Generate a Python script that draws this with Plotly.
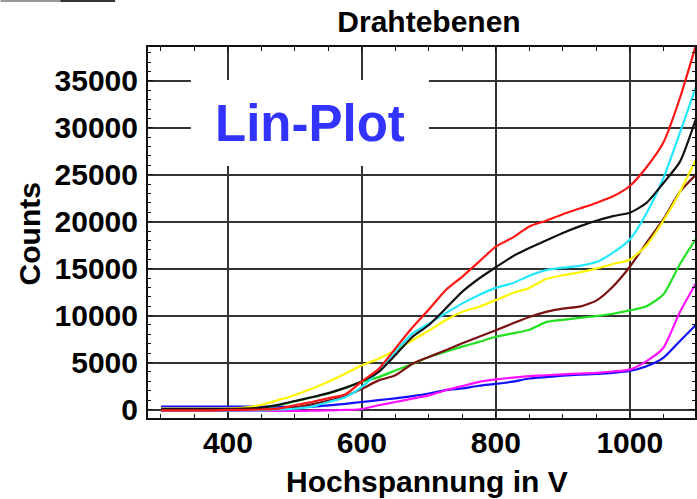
import plotly.graph_objects as go

# ---- data ----
voltage = [300, 325, 350, 375, 400, 425, 450, 475, 500, 525, 550, 575, 600, 625, 650,
           675, 700, 725, 750, 775, 800, 825, 850, 875, 900, 925, 950, 975, 1000,
           1025, 1050, 1075, 1100]

blue = [300, 300, 300, 300, 300, 300, 300, 300, 250, 300, 450, 600, 800, 1000, 1180,
        1420, 1700, 2060, 2250, 2530, 2720, 2960, 3300, 3450, 3600, 3700, 3780, 3900, 4100,
        4600, 5500, 7300, 9100]
magenta = [-150, -150, -150, -150, -150, -150, -150, -150, -150, -120, -100, -50, 50, 450, 800,
           1150, 1500, 2050, 2500, 2950, 3200, 3400, 3550, 3650, 3750, 3830, 3900, 4050, 4250,
           5150, 6550, 10400, 13600]
green = [0, 0, 0, 0, 0, 50, 150, 450, 850, 1300, 1700, 2300, 2950, 3450, 4150,
         4850, 5600, 6150, 6700, 7200, 7750, 8100, 8500, 9300, 9550, 9750, 9950, 10200, 10550,
         11000, 12250, 15500, 18300]
brown = [-100, -100, -100, -100, -100, -50, 0, 50, 200, 550, 950, 1400, 2200, 3100, 3650,
         4850, 5600, 6300, 7050, 7750, 8450, 9150, 9850, 10400, 10750, 10950, 11600, 13100, 15200,
         17750, 20250, 23200, 25100]
yellow = [100, 100, 100, 100, 100, 200, 500, 1000, 1550, 2200, 2950, 3800, 4700, 5400, 6300,
          7350, 8400, 9500, 10400, 10950, 11650, 12400, 12950, 13900, 14300, 14600, 15000, 15500, 15950,
          17500, 20100, 23200, 26800]
cyan = [-100, -100, -100, -100, -100, -100, -100, 0, 80, 300, 800, 1300, 2400, 4100, 6200,
        8050, 9150, 10250, 11300, 12200, 12950, 13450, 14250, 14850, 15100, 15300, 15700, 16700, 18100,
        20900, 24600, 29500, 34600]
black = [50, 50, 50, 50, 50, 100, 200, 500, 900, 1300, 1750, 2300, 3000, 4000, 5800,
         7700, 9000, 10750, 12550, 13950, 15150, 16300, 17200, 18000, 18800, 19500, 20100, 20600, 20950,
         22000, 24100, 26400, 31200]
red = [-100, -100, -100, -100, -50, -50, 0, 100, 450, 800, 1200, 1600, 3000, 4300, 6500,
       8700, 10650, 12700, 14150, 15750, 17350, 18300, 19500, 20100, 20800, 21400, 22000, 22700, 23800,
       25800, 28400, 33200, 39100]

series = [
    ("blue", blue, "#1010FF"),
    ("magenta", magenta, "#FF10FF"),
    ("green", green, "#22E022"),
    ("brown", brown, "#7A1212"),
    ("yellow", yellow, "#FFF500"),
    ("cyan", cyan, "#22E8FF"),
    ("black", black, "#111111"),
    ("red", red, "#FF1515"),
]

title_text = "Drahtebenen"
x_title = "Hochspannung in V"
y_title = "Counts"
label_text = "Lin-Plot"
x_ticks = [400, 600, 800, 1000]
x_ticklabels = ["400", "600", "800", "1000"]
y_ticks = [0, 5000, 10000, 15000, 20000, 25000, 30000, 35000]
y_ticklabels = ["0", "5000", "10000", "15000", "20000", "25000", "30000", "35000"]

W, H = 697, 499
L, R, T, B = 148, 0, 47, 81

fig = go.Figure()
for name, vals, col in series:
    fig.add_trace(go.Scatter(x=voltage, y=vals, mode="lines", name=name,
                             line=dict(color=col, width=2.2, shape="spline", smoothing=0.6),
                             showlegend=False))

font_family = "Liberation Sans, Arial, sans-serif"
axis_common = dict(
    showline=True, mirror="allticks", linecolor="#111", linewidth=2,
    showgrid=True, gridcolor="#333", gridwidth=1.8,
    zeroline=False, ticks="inside", ticklen=5, tickcolor="#111", tickwidth=1,
    tickfont=dict(family=font_family, size=30, color="#000", weight="bold"),
)

fig.update_layout(
    width=W, height=H,
    margin=dict(l=L, r=R, t=T, b=B),
    paper_bgcolor="white", plot_bgcolor="white",
    showlegend=False,
    title=dict(text=title_text, x=429 / W, xref="container", xanchor="center",
               y=1 - 21 / H, yref="container", yanchor="middle",
               font=dict(family=font_family, size=30, color="#000", weight="bold")),
    xaxis=dict(range=[280.6, 1097.4], tickvals=x_ticks, ticktext=x_ticklabels,
               ticklabelstandoff=-3,
               minor=dict(dtick=50, tick0=0, ticks="inside", ticklen=4, tickcolor="#111", showgrid=False),
               **axis_common),
    yaxis=dict(range=[-905, 38605], tickvals=y_ticks, ticktext=y_ticklabels,
               ticklabelstandoff=2,
               minor=dict(dtick=1000, tick0=0, ticks="inside", ticklen=3, tickcolor="#111", showgrid=False),
               **axis_common),
)

pw = W - L - R
ph = H - T - B


def px_x(px):
    return (px - L) / pw


def px_y(py):
    return (H - B - py) / ph


# axis titles
fig.add_annotation(text=x_title, xref="paper", yref="paper", x=px_x(428), y=px_y(481),
                   xanchor="center", yanchor="middle", showarrow=False,
                   font=dict(family=font_family, size=30, color="#000", weight="bold"))
fig.add_annotation(text=y_title, xref="paper", yref="paper", x=px_x(29), y=px_y(234),
                   xanchor="center", yanchor="middle", showarrow=False, textangle=-90,
                   font=dict(family=font_family, size=30, color="#000", weight="bold"))

# white label box with "Lin-Plot"
fig.add_shape(type="rect", xref="paper", yref="paper", x0=px_x(191), x1=px_x(430),
              y0=px_y(166), y1=px_y(80), fillcolor="white", line=dict(width=0), layer="above")
fig.add_annotation(text=label_text, xref="paper", yref="paper", x=px_x(311), y=px_y(124),
                   xanchor="center", yanchor="middle", showarrow=False,
                   font=dict(family=font_family, size=51, color="#3333FF", weight="bold"))

# small dark strip at the top-left edge of the original image
fig.add_shape(type="rect", xref="paper", yref="paper", x0=px_x(0), x1=px_x(60),
              y0=px_y(2), y1=px_y(0), fillcolor="#999", line=dict(width=0), layer="above")
fig.add_shape(type="rect", xref="paper", yref="paper", x0=px_x(60), x1=px_x(115),
              y0=px_y(2), y1=px_y(0), fillcolor="#333", line=dict(width=0), layer="above")

fig.write_html("out.html")
